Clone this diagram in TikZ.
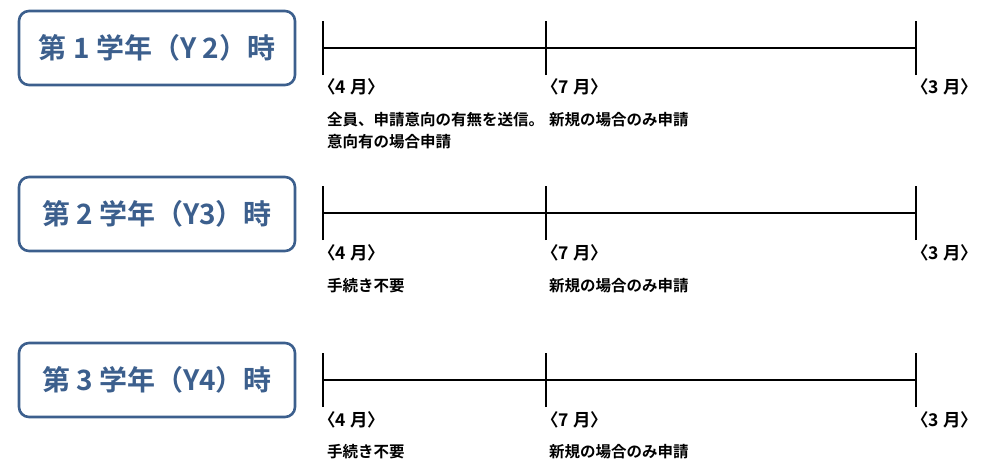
\documentclass[tikz,border=0pt]{standalone}
\usepackage{fontspec}
\setmainfont{Noto Sans CJK JP}[BoldFont={* Bold}]
\newfontfamily\jpbold{Noto Sans CJK JP Bold}
\definecolor{boxblue}{HTML}{3C5F8D}
\begin{document}
\begin{tikzpicture}[x=1pt,y=-1pt,
  yearbox/.style={draw=boxblue,line width=2.6pt,rounded corners=10pt,minimum width=276pt,minimum height=74pt,inner sep=0pt,
    text=boxblue,font=\jpbold\fontsize{28}{30}\selectfont},
  tl/.style={line width=2.6pt,black},
  month/.style={anchor=west,inner sep=0pt,font=\bfseries\fontsize{17.5}{20}\selectfont},
  note/.style={anchor=west,inner sep=0pt,font=\bfseries\fontsize{15.5}{22}\selectfont,align=left}]
\useasboundingbox (0,0) rectangle (990,469);
\node[yearbox] (b1) at (157,48) {第 1 学年（Y 2）時};
\node[yearbox] (b2) at (157,214) {第 2 学年（Y3）時};
\node[yearbox] (b3) at (157,380) {第 3 学年（Y4）時};
\foreach \i/\y in {1/48,2/213,3/380}{
  \coordinate (a\i) at (323,\y);
  \coordinate (m\i) at (546,\y);
  \coordinate (e\i) at (916,\y);
  \draw[tl] (a\i) -- (e\i);
  \draw[tl] ([yshift=-27pt]a\i) -- ([yshift=27pt]a\i);
  \draw[tl] ([yshift=-27pt]m\i) -- ([yshift=27pt]m\i);
  \draw[tl] ([yshift=-27pt]e\i) -- ([yshift=27pt]e\i);
}
\node[month] (l4a) at (318,87) {〈4 月〉};
\node[month] (l7a) at (541,87) {〈7 月〉};
\node[month] (l3a) at (911,87) {〈3 月〉};
\node[month] (l4b) at (318,253) {〈4 月〉};
\node[month] (l7b) at (541,253) {〈7 月〉};
\node[month] (l3b) at (911,253) {〈3 月〉};
\node[month] (l4c) at (318,420) {〈4 月〉};
\node[month] (l7c) at (541,420) {〈7 月〉};
\node[month] (l3c) at (911,420) {〈3 月〉};
\node[note] (n1) at (327,131) {全員、申請意向の有無を送信。\\意向有の場合申請};
\node[note] (n2) at (549,120) {新規の場合のみ申請};
\node[note] (n3) at (327,286) {手続き不要};
\node[note] (n4) at (549,286) {新規の場合のみ申請};
\node[note] (n5) at (327,452) {手続き不要};
\node[note] (n6) at (549,452) {新規の場合のみ申請};
\end{tikzpicture}
\end{document}
